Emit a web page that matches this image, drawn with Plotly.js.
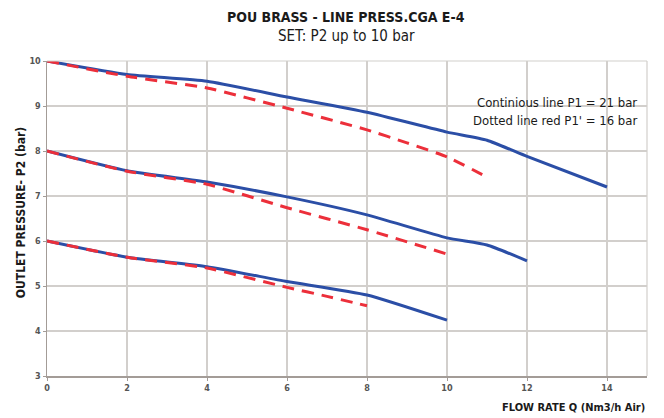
<!DOCTYPE html>
<html><head><meta charset="utf-8">
<script src="https://cdn.plot.ly/plotly-3.0.1.min.js"></script>
<style>html,body{margin:0;padding:0;background:#fff}#chart{width:664px;height:418px}</style>
</head><body><div id="chart"></div>
<script>
const flowTop = [0, 2, 4, 6, 8, 10, 11, 12, 14];
const p21Top = [10, 9.7, 9.55, 9.2, 8.86, 8.42, 8.24, 7.88, 7.2];
const flowTopRed = [0, 2, 4, 6, 8, 9, 10, 11];
const p16Top = [10, 9.66, 9.4, 8.95, 8.47, 8.18, 7.87, 7.42];

const flowMid = [0, 2, 4, 6, 8, 10, 11, 12];
const p21Mid = [8, 7.56, 7.31, 6.98, 6.58, 6.07, 5.91, 5.56];
const flowMidRed = [0, 2, 4, 6, 8, 10];
const p16Mid = [8, 7.55, 7.26, 6.74, 6.25, 5.71];

const flowLow = [0, 2, 4, 6, 8, 10];
const p21Low = [6, 5.64, 5.43, 5.1, 4.8, 4.24];
const flowLowRed = [0, 2, 4, 6, 7, 8];
const p16Low = [6, 5.64, 5.4, 4.97, 4.77, 4.56];

const xTicks = [0, 2, 4, 6, 8, 10, 12, 14];
const yTicks = [3, 4, 5, 6, 7, 8, 9, 10];

const FONT = '"Liberation Sans Narrow", "DejaVu Sans Condensed", "Roboto", sans-serif';
const blue = {color: '#2b4ea6', width: 3, shape: 'spline', smoothing: 0.5};
const red = {color: '#ec2f3a', width: 3, shape: 'spline', smoothing: 0.5, dash: '12px,8px'};

function tr(x, y, line) {
  return {x: x, y: y, type: 'scatter', mode: 'lines', line: line, hoverinfo: 'skip', showlegend: false};
}
const data = [
  tr(flowTop, p21Top, blue), tr(flowMid, p21Mid, blue), tr(flowLow, p21Low, blue),
  tr(flowTopRed, p16Top, red), tr(flowMidRed, p16Mid, red), tr(flowLowRed, p16Low, red)
];

const layout = {
  width: 664, height: 418,
  margin: {l: 47, r: 17, t: 61, b: 42},
  paper_bgcolor: '#ffffff', plot_bgcolor: '#ffffff',
  font: {family: FONT, color: '#222'},
  xaxis: {
    range: [0, 15], tickvals: xTicks, ticktext: xTicks.map(String),
    showgrid: true, gridcolor: '#d2cfcc', gridwidth: 1.2,
    showline: true, linecolor: '#a39c97', linewidth: 1.5, mirror: false,
    zeroline: false, ticks: 'outside', ticklen: 3, tickcolor: '#a39c97',
    tickfont: {size: 9, color: '#555', family: FONT, weight: 'bold'}
  },
  yaxis: {
    range: [3, 10], tickvals: yTicks, ticktext: yTicks.map(String),
    showgrid: true, gridcolor: '#d2cfcc', gridwidth: 1.2,
    showline: true, linecolor: '#a39c97', linewidth: 1.5,
    zeroline: false, ticks: 'outside', ticklen: 3, tickcolor: '#a39c97',
    tickfont: {size: 9, color: '#555', family: FONT, weight: 'bold'}
  },
  shapes: [
    {type: 'line', xref: 'paper', yref: 'paper', x0: 1, x1: 1, y0: 0, y1: 1, line: {color: '#d2cfcc', width: 1.2}},
    {type: 'line', xref: 'paper', yref: 'paper', x0: 0, x1: 1, y0: 1, y1: 1, line: {color: '#d2cfcc', width: 1.2}}
  ],
  annotations: [
    {text: '<b>POU BRASS - LINE PRESS.CGA E-4</b>', xref: 'paper', yref: 'paper', x: 0.5, xshift: -1, y: 1, yshift: 44,
     xanchor: 'center', yanchor: 'middle', showarrow: false, font: {size: 14, color: '#1a1a1a', family: FONT}},
    {text: 'SET: P2 up to 10 bar', xref: 'paper', yref: 'paper', x: 0.5, xshift: -1, y: 1, yshift: 25,
     xanchor: 'center', yanchor: 'middle', showarrow: false, font: {size: 15, color: '#1a1a1a', family: FONT}},
    {text: '<b>OUTLET PRESSURE- P2 (bar)</b>', xref: 'paper', yref: 'paper', x: 0, xshift: -26, y: 0.517,
     textangle: -90, xanchor: 'center', yanchor: 'middle', showarrow: false, font: {size: 12, color: '#1a1a1a', family: FONT}},
    {text: '<b>FLOW RATE Q (Nm3/h Air)</b>', xref: 'paper', yref: 'paper', x: 1, xshift: 0, y: 0, yshift: -31,
     xanchor: 'right', yanchor: 'middle', showarrow: false, font: {size: 11, color: '#1a1a1a', family: FONT}},
    {text: 'Continious line P1 = 21 bar', xref: 'paper', yref: 'paper', x: 1, xshift: -8, y: 1, yshift: -41,
     xanchor: 'right', yanchor: 'middle', showarrow: false, font: {size: 13, color: '#1a1a1a', family: FONT}},
    {text: "Dotted line red P1' = 16 bar", xref: 'paper', yref: 'paper', x: 1, xshift: -8, y: 1, yshift: -59,
     xanchor: 'right', yanchor: 'middle', showarrow: false, font: {size: 13, color: '#1a1a1a', family: FONT}}
  ]
};
Plotly.newPlot('chart', data, layout, {displayModeBar: false, staticPlot: true});
</script></body></html>
